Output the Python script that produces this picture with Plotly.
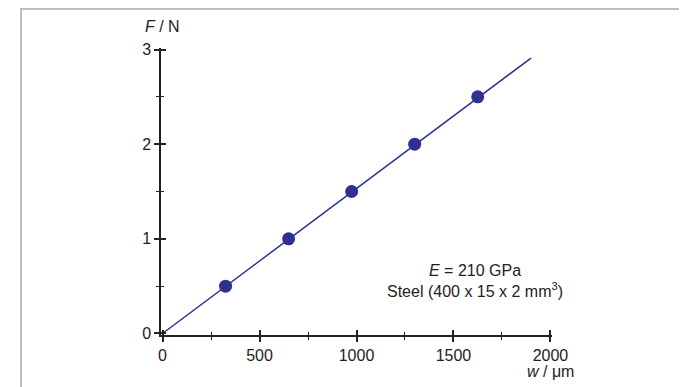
import plotly.graph_objects as go

# Data
w_um = [325, 650, 975, 1300, 1625]
F_N = [0.5, 1.0, 1.5, 2.0, 2.5]
fit_w = [0, 1900]
fit_F = [0, 2.91]
x_ticks = [0, 500, 1000, 1500, 2000]
y_ticks = [0, 1, 2, 3]
x_minor = [250, 750, 1250, 1750]
y_minor = [0.5, 1.5, 2.5]
x_range = [-8, 2008]      # tiny padding so the end ticks can cross the axis
y_range = [-0.016, 3.016]

navy = "#2e3192"
ink = "#222222"
font_family = "Liberation Sans, Arial, sans-serif"

fig = go.Figure()
fig.add_trace(go.Scatter(x=fit_w, y=fit_F, mode="lines",
                         line=dict(color=navy, width=1.5), showlegend=False,
                         hoverinfo="skip", cliponaxis=False))
fig.add_trace(go.Scatter(x=w_um, y=F_N, mode="markers",
                         marker=dict(color=navy, size=13), showlegend=False,
                         cliponaxis=False))
# invisible trace that activates the overlaid axes (inner half of crossing ticks)
fig.add_trace(go.Scatter(x=fit_w[:1], y=fit_F[:1], xaxis="x2", yaxis="y2",
                         mode="markers", marker=dict(opacity=0), showlegend=False,
                         hoverinfo="skip"))

tickfont = dict(size=16, color=ink, family=font_family)

fig.update_layout(
    width=687, height=387,
    margin=dict(l=153, r=143, t=40, b=60),
    paper_bgcolor="white", plot_bgcolor="rgba(0,0,0,0)",
    font=dict(family=font_family, size=16, color=ink),
    xaxis=dict(range=x_range, tickvals=x_ticks, showline=True, linecolor=ink,
               linewidth=1.5, ticks="outside", ticklen=5, tickwidth=1.5, tickcolor=ink,
               minor=dict(tickvals=x_minor, ticks="outside", ticklen=3,
                          tickwidth=1.2, tickcolor=ink),
               showgrid=False, zeroline=False, tickfont=tickfont),
    yaxis=dict(range=y_range, tickvals=y_ticks, showline=True, linecolor=ink,
               linewidth=1.5, ticks="outside", ticklen=5, tickwidth=1.5, tickcolor=ink,
               minor=dict(tickvals=y_minor, ticks="outside", ticklen=3,
                          tickwidth=1.2, tickcolor=ink),
               showgrid=False, zeroline=False, tickfont=tickfont),
    xaxis2=dict(overlaying="x", anchor="y2", range=x_range, tickvals=x_ticks,
                showticklabels=False, showline=False, showgrid=False, zeroline=False,
                ticks="inside", ticklen=5, tickwidth=1.5, tickcolor=ink,
                minor=dict(tickvals=x_minor, ticks="inside", ticklen=3,
                           tickwidth=1.2, tickcolor=ink)),
    yaxis2=dict(overlaying="y", anchor="x2", range=y_range, tickvals=y_ticks,
                showticklabels=False, showline=False, showgrid=False, zeroline=False,
                ticks="inside", ticklen=5, tickwidth=1.5, tickcolor=ink,
                minor=dict(tickvals=y_minor, ticks="inside", ticklen=3,
                           tickwidth=1.2, tickcolor=ink)),
    annotations=[
        dict(text="<i>F</i> / N", xref="x", yref="y", x=0, y=3,
             xanchor="center", yanchor="bottom", yshift=13, showarrow=False,
             font=dict(size=16, color=ink)),
        dict(text="<i>w</i> / μm", xref="x", yref="y", x=2000, y=0,
             xanchor="center", yanchor="top", yshift=-28, showarrow=False,
             font=dict(size=16, color=ink)),
        dict(text="<i>E</i> = 210 GPa<br>Steel (400 x 15 x 2 mm<sup>3</sup>)",
             xref="x", yref="y", x=1610, y=0.55, xanchor="center", yanchor="middle",
             showarrow=False, align="center", font=dict(size=16, color=ink)),
    ],
    shapes=[
        dict(type="rect", xref="paper", yref="paper",
             x0=-0.358, x1=1.334, y0=-0.3, y1=1.136,
             line=dict(color="#bdbdbd", width=2), fillcolor="rgba(0,0,0,0)", layer="above"),
    ],
)

fig.write_html("out.html")
